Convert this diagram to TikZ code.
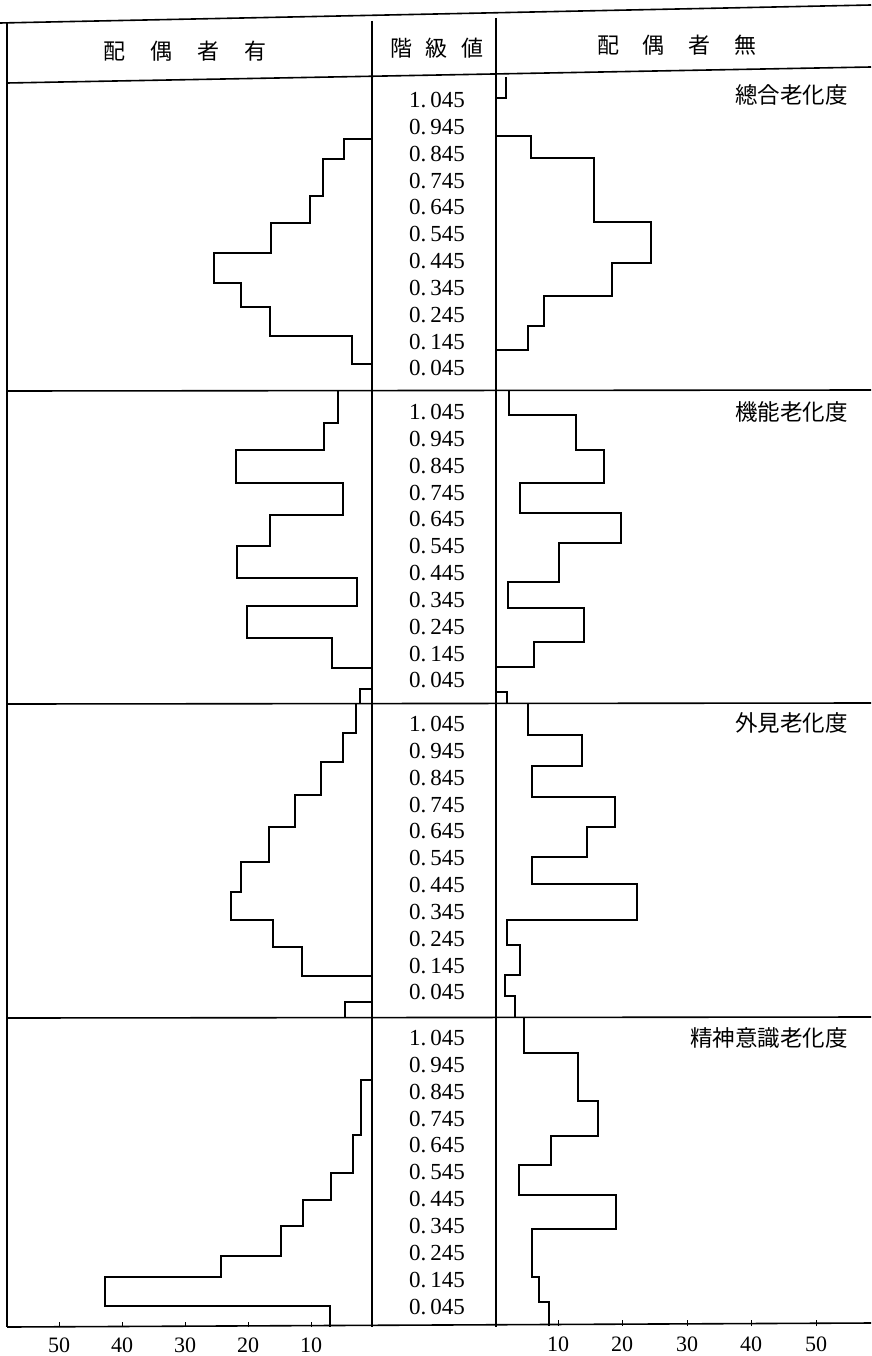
\documentclass[tikz,border=0pt]{standalone}
\usepackage{fontspec}
\setmainfont{Liberation Serif}
\newfontfamily\jpfont{Noto Sans CJK JP}
\tikzset{
  frame/.style={ultra thick},
  bars/.style={ultra thick, line join=miter},
  classval/.style={font=\fontsize{23}{23}\selectfont, inner sep=0pt},
  axisval/.style={font=\fontsize{22}{22}\selectfont, inner sep=0pt},
  colhead/.style={font=\jpfont\fontsize{22}{22}\selectfont, inner sep=0pt},
  panelname/.style={font=\jpfont\fontsize{22.5}{22.5}\selectfont, inner sep=0pt, anchor=east},
}
\begin{document}
\begin{tikzpicture}[x=1pt,y=-1pt]
\useasboundingbox (0,0) rectangle (871,1356);

% frame
\draw[frame] (0,23) -- (871,5);
\draw[frame] (7,83) -- (871,67);
\draw[frame] (7,23) -- (7,1327);
\draw[very thick] (372,21) -- (372,1327);
\draw[very thick] (496,18) -- (496,1327);
\draw[frame] (7,391) -- (871,390);
\draw[frame] (7,704) -- (871,703);
\draw[frame] (7,1018) -- (871,1017);
\draw[frame] (7,1327) -- (871,1323);

% header
\node[colhead] (hdYes) at (185,51) {配\hspace{25pt}偶\hspace{25pt}者\hspace{25pt}有};
\node[colhead] (hdClass) at (437,48) {階\hspace{14pt}級\hspace{14pt}値};
\node[colhead] (hdNo) at (677,45) {配\hspace{24pt}偶\hspace{24pt}者\hspace{24pt}無};

% panel names
\node[panelname] (pn1) at (848,95) {總合老化度};
\node[panelname] (pn2) at (848,412) {機能老化度};
\node[panelname] (pn3) at (848,723) {外見老化度};
\node[panelname] (pn4) at (848,1038) {精神意識老化度};

% class values
\foreach \s/\top in {1/80,2/392,3/704,4/1018}
  \foreach \v [count=\i from 0] in {1.\,045,0.\,945,0.\,845,0.\,745,0.\,645,0.\,545,0.\,445,0.\,345,0.\,245,0.\,145,0.\,045}
    \node[classval] (cv\s-\i) at (437,\top+20+26.85*\i) {\v};

% 總合老化度
\draw[bars] (372,139) -- (344,139) -- (344,159) -- (323,159) -- (323,196) -- (310,196) -- (310,223) -- (271,223) -- (271,253) -- (214,253) -- (214,283) -- (241,283) -- (241,307) -- (270,307) -- (270,336) -- (352,336) -- (352,364) -- (372,364);
\draw[bars] (506,77) -- (506,98) -- (496,98);
\draw[bars] (496,136) -- (531,136) -- (531,158) -- (594,158) -- (594,222) -- (651,222) -- (651,263) -- (612,263) -- (612,296) -- (544,296) -- (544,326) -- (528,326) -- (528,350) -- (496,350);

% 機能老化度
\draw[bars] (338,391) -- (338,423) -- (324,423) -- (324,450) -- (236,450) -- (236,483) -- (343,483) -- (343,515) -- (270,515) -- (270,546) -- (237,546) -- (237,578) -- (357,578) -- (357,606) -- (247,606) -- (247,638) -- (332,638) -- (332,668) -- (372,668);
\draw[bars] (372,689) -- (360,689) -- (360,704);
\draw[bars] (509,391) -- (509,415) -- (576,415) -- (576,450) -- (604,450) -- (604,483) -- (520,483) -- (520,513) -- (621,513) -- (621,543) -- (559,543) -- (559,582) -- (508,582) -- (508,608) -- (584,608) -- (584,642) -- (534,642) -- (534,667) -- (496,667);
\draw[bars] (496,692) -- (507,692) -- (507,704);

% 外見老化度
\draw[bars] (356,704) -- (356,733) -- (343,733) -- (343,762) -- (321,762) -- (321,795) -- (295,795) -- (295,827) -- (269,827) -- (269,862) -- (241,862) -- (241,892) -- (231,892) -- (231,920) -- (273,920) -- (273,947) -- (302,947) -- (302,976) -- (372,976);
\draw[bars] (372,1002) -- (345,1002) -- (345,1018);
\draw[bars] (528,703) -- (528,735) -- (582,735) -- (582,766) -- (532,766) -- (532,797) -- (615,797) -- (615,827) -- (587,827) -- (587,857) -- (532,857) -- (532,884) -- (637,884) -- (637,920) -- (507,920) -- (507,945) -- (520,945) -- (520,975) -- (505,975) -- (505,996) -- (515,996) -- (515,1017);

% 精神意識老化度
\draw[bars] (372,1080) -- (361,1080) -- (361,1135) -- (353,1135) -- (353,1173) -- (331,1173) -- (331,1200) -- (303,1200) -- (303,1226) -- (281,1226) -- (281,1256) -- (221,1256) -- (221,1277) -- (105,1277) -- (105,1306) -- (330,1306) -- (330,1327);
\draw[bars] (524,1017) -- (524,1053) -- (578,1053) -- (578,1101) -- (598,1101) -- (598,1136) -- (551,1136) -- (551,1165) -- (519,1165) -- (519,1195) -- (616,1195) -- (616,1229) -- (532,1229) -- (532,1277) -- (539,1277) -- (539,1302) -- (549,1302) -- (549,1326);

% axis
\foreach \n/\x in {50/59,40/122,30/185,20/248,10/311} {
  \draw[thick] (\x,1327) -- (\x,1322);
  \node[axisval] (axL\n) at (\x,1345) {\n};
}
\foreach \n/\x in {10/558,20/622,30/687,40/751,50/816} {
  \draw[thick] (\x,1326) -- (\x,1320);
  \node[axisval] (axR\n) at (\x,1344) {\n};
}
\end{tikzpicture}
\end{document}
